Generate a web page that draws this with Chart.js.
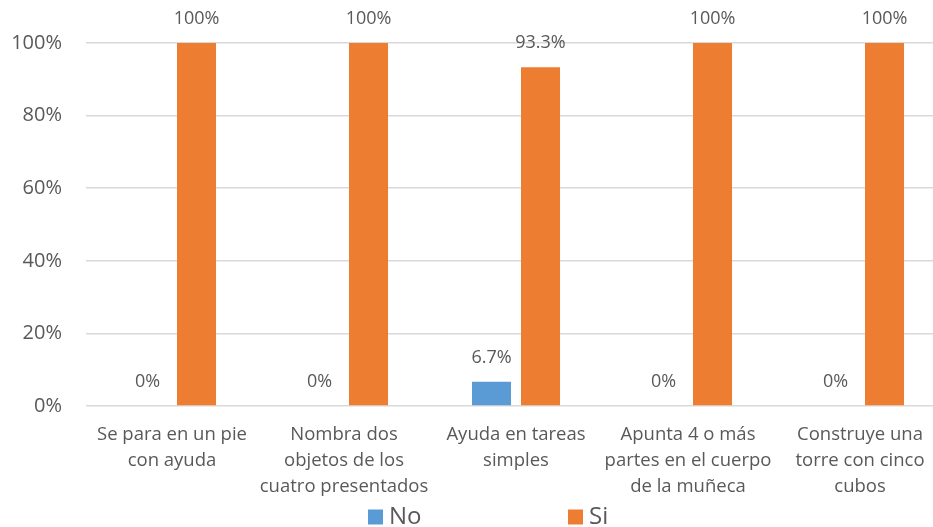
<!DOCTYPE html>
<html>
<head>
<meta charset="utf-8">
<script src="https://cdn.jsdelivr.net/npm/chart.js@4/dist/chart.umd.min.js"></script>
<style>
html,body{margin:0;padding:0;background:#fff;}
#wrap{width:933px;height:527px;position:relative;overflow:hidden;}
</style>
</head>
<body>
<div id="wrap"><canvas id="c" width="946" height="527"></canvas></div>
<script>
const categories = [
  ["Se para en un pie","con ayuda"],
  ["Nombra dos","objetos de los","cuatro presentados"],
  ["Ayuda en tareas","simples"],
  ["Apunta 4 o más","partes en el cuerpo","de la muñeca"],
  ["Construye una","torre con cinco","cubos"]
];
const seriesNames = ["No","Si"];
const noValues = [0, 0, 6.7, 0, 0];
const siValues = [100, 100, 93.3, 100, 100];
const valueLabelsNo = ["0%","0%","6.7%","0%","0%"];
const valueLabelsSi = ["100%","100%","93.3%","100%","100%"];
const yTicks = [0,20,40,60,80,100];

const colors = ["#5b9bd5","#ed7d31"];
const textColor = "#595959";
const FONT = "'Open Sans', 'Liberation Sans', sans-serif";

const valueLabelPlugin = {
  id: 'valueLabels',
  afterDatasetsDraw(chart) {
    const ctx = chart.ctx;
    const labelSets = [valueLabelsNo, valueLabelsSi];
    ctx.save();
    ctx.font = "18px " + FONT;
    ctx.fillStyle = textColor;
    ctx.textAlign = 'center';
    ctx.textBaseline = 'middle';
    chart.data.datasets.forEach((ds, di) => {
      const meta = chart.getDatasetMeta(di);
      meta.data.forEach((el, i) => {
        ctx.fillText(labelSets[di][i], el.x, el.y - 24);
      });
    });
    ctx.restore();
  }
};

const legendPlugin = {
  id: 'customLegend',
  afterDraw(chart) {
    const ctx = chart.ctx;
    ctx.save();
    ctx.font = "24px " + FONT;
    ctx.textBaseline = 'middle';
    ctx.textAlign = 'left';
    const y = 517;
    const starts = [368, 568];
    chart.data.datasets.forEach((ds, di) => {
      const x = starts[di];
      ctx.fillStyle = ds.backgroundColor;
      ctx.fillRect(x, y - 7.5, 15, 15);
      ctx.fillStyle = textColor;
      ctx.fillText(ds.label, x + 21, y);
    });
    ctx.restore();
  }
};

new Chart(document.getElementById('c'), {
  type: 'bar',
  data: {
    labels: categories,
    datasets: [
      { label: seriesNames[0], data: noValues, backgroundColor: colors[0] },
      { label: seriesNames[1], data: siValues, backgroundColor: colors[1] }
    ]
  },
  options: {
    responsive: false,
    animation: false,
    devicePixelRatio: 1,
    layout: { padding: { top: 43, left: 0, right: 0, bottom: 0 } },
    datasets: { bar: { categoryPercentage: 0.570, barPercentage: 0.796 } },
    plugins: { legend: { display: false }, tooltip: { enabled: false } },
    scales: {
      x: {
        grid: { display: false },
        border: { display: false },
        ticks: {
          color: textColor,
          font: { family: FONT, size: 18.5, lineHeight: 1.405 },
          maxRotation: 0, minRotation: 0, autoSkip: false, padding: 8
        },
        afterFit(scale) { scale.height = 121; }
      },
      y: {
        min: 0, max: 100,
        afterBuildTicks(scale) { scale.ticks = yTicks.map(v => ({ value: v })); },
        grid: { color: "#d9d9d9", lineWidth: 1.5, drawTicks: false },
        border: { display: false },
        ticks: {
          color: textColor,
          font: { family: FONT, size: 20 },
          padding: 24,
          callback: v => v + "%"
        },
        afterFit(scale) { scale.width = 86; }
      }
    }
  },
  plugins: [valueLabelPlugin, legendPlugin]
});
</script>
</body>
</html>
